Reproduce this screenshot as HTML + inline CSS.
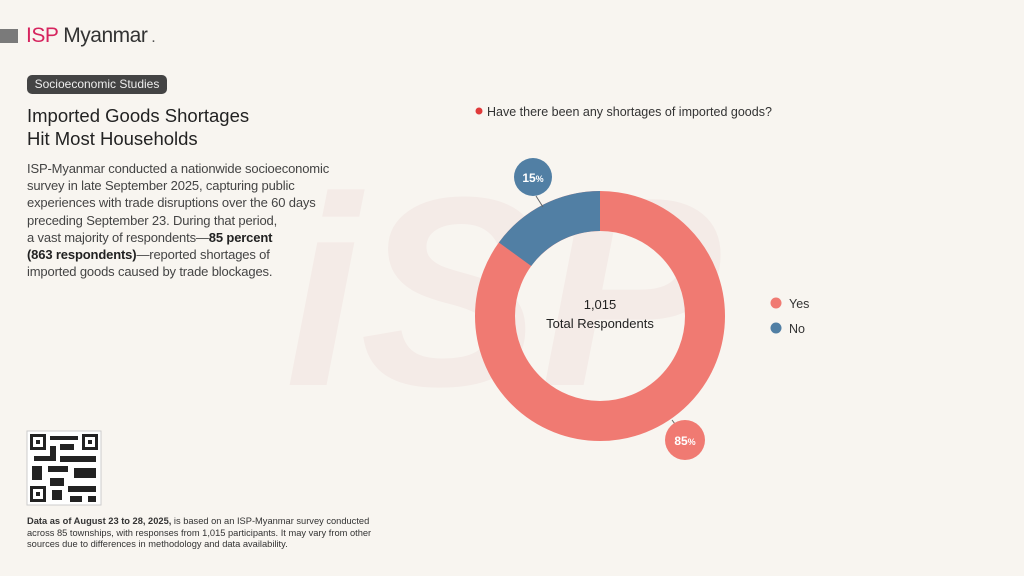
<!DOCTYPE html>
<html><head><meta charset="utf-8"><style>
body{margin:0;width:1024px;height:576px;background:#f8f5f0;font-family:"Liberation Sans",sans-serif;position:relative;overflow:hidden;color:#222}
.a{position:absolute}
</style></head><body>
<svg class="a" style="left:0;top:0" width="1024" height="576">
<text x="285" y="385" font-size="270" font-weight="bold" font-style="italic" fill="#f4ebe7" font-family="Liberation Sans">iSP</text>
</svg>
<div class="a" style="left:0;top:29px;width:18px;height:14px;background:#7a7a7a"></div>
<div class="a" style="left:26px;top:24px;font-size:21px;letter-spacing:-0.5px"><span style="color:#d6245e">ISP</span><span style="color:#333"> Myanmar</span><span style="color:#555;font-size:16px"> .</span></div>
<div class="a" style="left:27px;top:75px;width:140px;height:19px;background:#444;border-radius:5px;color:#eee;font-size:12px;line-height:19px;text-align:center">Socioeconomic Studies</div>
<div class="a" style="left:27px;top:104px;font-size:18.5px;line-height:23px;color:#222">Imported Goods Shortages<br>Hit Most Households</div>
<div class="a" style="left:27px;top:160px;font-size:13px;line-height:17.2px;color:#444;white-space:nowrap;letter-spacing:-0.15px">ISP-Myanmar conducted a nationwide socioeconomic<br>survey in late September 2025, capturing public<br>experiences with trade disruptions over the 60 days<br>preceding September 23. During that period,<br>a vast majority of respondents—<b style="color:#222">85 percent</b><br><b style="color:#222">(863 respondents)</b>—reported shortages of<br>imported goods caused by trade blockages.</div>
<svg class="a" style="left:0;top:0" width="1024" height="576">
<circle cx="479" cy="111" r="3.5" fill="#e03a3a"/>
<text x="487" y="116" font-size="12.5" fill="#333">Have there been any shortages of imported goods?</text>
<circle cx="600" cy="316" r="105" fill="none" stroke="#f07a72" stroke-width="40"/>
<path d="M600 191 A125 125 0 0 0 498.9 242.5 L531.2 266 A85 85 0 0 1 600 231 Z" fill="#517fa4"/>
<line x1="536" y1="196" x2="543" y2="207" stroke="#666"/>
<line x1="672" y1="420" x2="678" y2="428" stroke="#666"/>
<circle cx="533" cy="177" r="19" fill="#517fa4"/>
<text x="533" y="182" font-size="12" font-weight="bold" fill="#fff" text-anchor="middle">15<tspan font-size="9">%</tspan></text>
<circle cx="685" cy="440" r="20" fill="#f07a72"/>
<text x="685" y="445" font-size="12" font-weight="bold" fill="#fff" text-anchor="middle">85<tspan font-size="9">%</tspan></text>
<text x="600" y="309" font-size="13" fill="#222" text-anchor="middle">1,015</text>
<text x="600" y="328" font-size="13" fill="#222" text-anchor="middle">Total Respondents</text>
<circle cx="776" cy="303" r="5.5" fill="#f07a72"/><text x="789" y="308" font-size="12.5" fill="#333">Yes</text>
<circle cx="776" cy="328" r="5.5" fill="#517fa4"/><text x="789" y="333" font-size="12.5" fill="#333">No</text>
<rect x="27" y="431" width="74" height="74" fill="#fff" stroke="#ccc"/>
<g fill="#222">
<rect x="30" y="434" width="16" height="16"/><rect x="82" y="434" width="16" height="16"/><rect x="30" y="486" width="16" height="16"/>
<rect x="50" y="436" width="28" height="4"/><rect x="50" y="446" width="6" height="10"/><rect x="60" y="444" width="14" height="6"/>
<rect x="34" y="456" width="22" height="5"/><rect x="60" y="456" width="36" height="6"/><rect x="32" y="466" width="10" height="14"/>
<rect x="48" y="466" width="20" height="6"/><rect x="74" y="468" width="22" height="10"/><rect x="50" y="478" width="14" height="8"/>
<rect x="52" y="490" width="10" height="10"/><rect x="68" y="486" width="28" height="6"/><rect x="70" y="496" width="12" height="6"/><rect x="88" y="496" width="8" height="6"/>
</g>
<g fill="#fff"><rect x="33" y="437" width="10" height="10"/><rect x="85" y="437" width="10" height="10"/><rect x="33" y="489" width="10" height="10"/></g>
<g fill="#222"><rect x="36" y="440" width="4" height="4"/><rect x="88" y="440" width="4" height="4"/><rect x="36" y="492" width="4" height="4"/></g>
</svg>
<div class="a" style="left:27px;top:516px;font-size:9.3px;line-height:11.5px;color:#333;white-space:nowrap"><b>Data as of August 23 to 28, 2025,</b> is based on an ISP-Myanmar survey conducted<br>across 85 townships, with responses from 1,015 participants. It may vary from other<br>sources due to differences in methodology and data availability.</div>
</body></html>
